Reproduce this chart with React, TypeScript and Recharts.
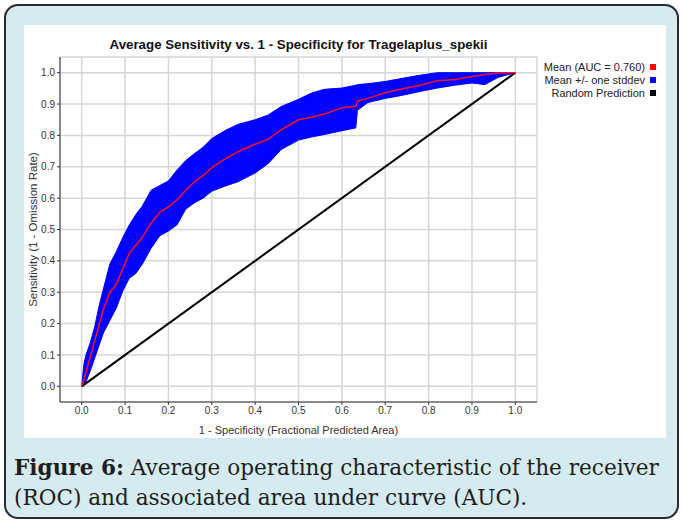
import {
  ComposedChart,
  Area,
  Line,
  XAxis,
  YAxis,
  CartesianGrid,
} from "recharts";

// 1 - specificity (fractional predicted area)
const fpr = [
  0, 0.005, 0.01, 0.02, 0.03, 0.04, 0.05, 0.065, 0.08, 0.095, 0.11, 0.125,
  0.14, 0.16, 0.18, 0.2, 0.22, 0.24, 0.26, 0.28, 0.3, 0.33, 0.36, 0.4, 0.43,
  0.46, 0.5, 0.53, 0.56, 0.6, 0.632, 0.636, 0.66, 0.7, 0.74, 0.78, 0.82, 0.86,
  0.9, 0.93, 0.96, 1,
];

// mean sensitivity (red)
const meanTpr = [
  0, 0.02, 0.045, 0.095, 0.145, 0.195, 0.245, 0.3, 0.325, 0.375, 0.425, 0.45,
  0.475, 0.52, 0.555, 0.572, 0.595, 0.625, 0.652, 0.672, 0.697, 0.724, 0.748,
  0.772, 0.788, 0.818, 0.85, 0.858, 0.868, 0.888, 0.893, 0.909, 0.918, 0.936,
  0.949, 0.96, 0.974, 0.978, 0.988, 0.994, 0.999, 1,
];

// mean + one stddev
const upperTpr = [
  0, 0.07, 0.1, 0.14, 0.19, 0.255, 0.31, 0.39, 0.43, 0.475, 0.515, 0.548,
  0.575, 0.625, 0.64, 0.655, 0.69, 0.72, 0.742, 0.762, 0.79, 0.815, 0.835,
  0.85, 0.865, 0.892, 0.915, 0.935, 0.947, 0.951, 0.96, 0.962, 0.965, 0.972,
  0.982, 0.992, 1, 1, 1, 1, 1, 1,
];

// mean - one stddev
const lowerTpr = [
  0, 0.005, 0.015, 0.05, 0.09, 0.13, 0.17, 0.21, 0.25, 0.305, 0.345, 0.36,
  0.39, 0.44, 0.48, 0.495, 0.515, 0.565, 0.585, 0.6, 0.622, 0.638, 0.652,
  0.68, 0.71, 0.755, 0.785, 0.795, 0.803, 0.815, 0.824, 0.88, 0.905, 0.918,
  0.928, 0.94, 0.951, 0.96, 0.967, 0.962, 0.985, 1,
];

// random prediction diagonal
const randomX = [0, 1];
const randomY = [0, 1];

const ticks = [0, 0.1, 0.2, 0.3, 0.4, 0.5, 0.6, 0.7, 0.8, 0.9, 1.0];

const legendItems = [
  { label: "Mean (AUC = 0.760)", color: "#ff0000" },
  { label: "Mean +/- one stddev", color: "#0000ff" },
  { label: "Random Prediction", color: "#000000" },
];

const rows = fpr.map((x, i) => ({
  x,
  mean: meanTpr[i],
  band: [lowerTpr[i], upperTpr[i]],
}));

const diagRows = randomX.map((x, i) => ({ x, y: randomY[i] }));

const sans = "'Liberation Sans', Arial, sans-serif";
const tickStyle = { fill: "#333", fontSize: 10, fontFamily: sans };
const blank = () => "";

export default function App() {
  return (
    <div
      style={{
        position: "absolute",
        left: 0,
        top: 0,
        width: 683,
        height: 523,
        background: "#ffffff",
        fontFamily: sans,
      }}
    >
      <div
        style={{
          position: "absolute",
          left: 4,
          top: 4,
          width: 675,
          height: 515,
          boxSizing: "border-box",
          border: "2px solid #2a2a2a",
          borderRadius: 14,
          background: "#d6ebf0",
        }}
      />
      <div
        style={{
          position: "absolute",
          left: 24,
          top: 25,
          width: 642,
          height: 413,
          background: "#ffffff",
        }}
      >
        <ComposedChart
          width={642}
          height={413}
          data={rows}
          margin={{ top: 32, right: 129, bottom: 0, left: 0 }}
        >
          <CartesianGrid
            xAxisId="bottom"
            yAxisId="left"
            stroke="#d6d6d6"
            strokeWidth={1.5}
          />
          <XAxis
            xAxisId="bottom"
            dataKey="x"
            type="number"
            domain={[-0.05, 1.05]}
            ticks={ticks}
            allowDataOverflow
            height={36}
            tickSize={3}
            tick={tickStyle}
            tickFormatter={(v: number) => v.toFixed(1)}
            stroke="#333"
            label={{
              value: "1 - Specificity (Fractional Predicted Area)",
              position: "insideBottom",
              offset: 4,
              style: { fill: "#333", fontSize: 11, fontFamily: sans },
            }}
          />
          <XAxis
            xAxisId="top"
            orientation="top"
            mirror
            dataKey="x"
            type="number"
            domain={[-0.05, 1.05]}
            ticks={ticks}
            allowDataOverflow
            height={0}
            tickSize={3}
            tickFormatter={blank}
            stroke="#444"
          />
          <YAxis
            yAxisId="left"
            type="number"
            domain={[-0.05, 1.05]}
            ticks={ticks}
            allowDataOverflow
            width={36}
            tickSize={3}
            tick={tickStyle}
            tickFormatter={(v: number) => v.toFixed(1)}
            stroke="#333"
            label={{
              value: "Sensitivity (1 - Omission Rate)",
              angle: -90,
              position: "insideLeft",
              offset: 9,
              style: {
                fill: "#333",
                fontSize: 11.5,
                fontFamily: sans,
                textAnchor: "middle",
              },
            }}
          />
          <YAxis
            yAxisId="right"
            orientation="right"
            mirror
            type="number"
            domain={[-0.05, 1.05]}
            ticks={ticks}
            allowDataOverflow
            width={0}
            tickSize={3}
            tickFormatter={blank}
            stroke="#444"
          />
          <Area
            xAxisId="bottom"
            yAxisId="left"
            type="linear"
            dataKey="band"
            fill="#0000ff"
            fillOpacity={1}
            stroke="#0000ff"
            strokeWidth={1}
            isAnimationActive={false}
          />
          <Line
            xAxisId="bottom"
            yAxisId="left"
            data={diagRows}
            dataKey="y"
            type="linear"
            stroke="#000000"
            strokeWidth={2}
            dot={false}
            activeDot={false}
            isAnimationActive={false}
          />
          <Line
            xAxisId="bottom"
            yAxisId="left"
            dataKey="mean"
            type="linear"
            stroke="#ff1020"
            strokeWidth={1.5}
            dot={false}
            activeDot={false}
            isAnimationActive={false}
          />
        </ComposedChart>
      </div>

      <div
        style={{
          position: "absolute",
          left: 40,
          top: 37,
          width: 517,
          textAlign: "center",
          fontSize: 13.3,
          fontWeight: "bold",
          color: "#111",
          whiteSpace: "nowrap",
        }}
      >
        Average Sensitivity vs. 1 - Specificity for Tragelaplus_spekii
      </div>

      <div
        style={{
          position: "absolute",
          left: 490,
          top: 60,
          width: 166,
          fontSize: 11,
          color: "#222",
        }}
      >
        {legendItems.map((item) => (
          <div
            key={item.label}
            style={{
              display: "flex",
              justifyContent: "flex-end",
              alignItems: "center",
              height: 13,
              whiteSpace: "nowrap",
            }}
          >
            <span>{item.label}</span>
            <span
              style={{
                display: "inline-block",
                width: 6,
                height: 6,
                marginLeft: 5,
                background: item.color,
              }}
            />
          </div>
        ))}
      </div>

      <div
        style={{
          position: "absolute",
          left: 14,
          top: 453,
          width: 669,
          fontFamily: "'DejaVu Serif', serif",
          fontSize: 21.6,
          lineHeight: "30px",
          color: "#1e1e1e",
          whiteSpace: "nowrap",
        }}
      >
        <b>Figure 6:</b> Average operating characteristic of the receiver
        <br />
        (ROC) and associated area under curve (AUC).
      </div>
    </div>
  );
}
